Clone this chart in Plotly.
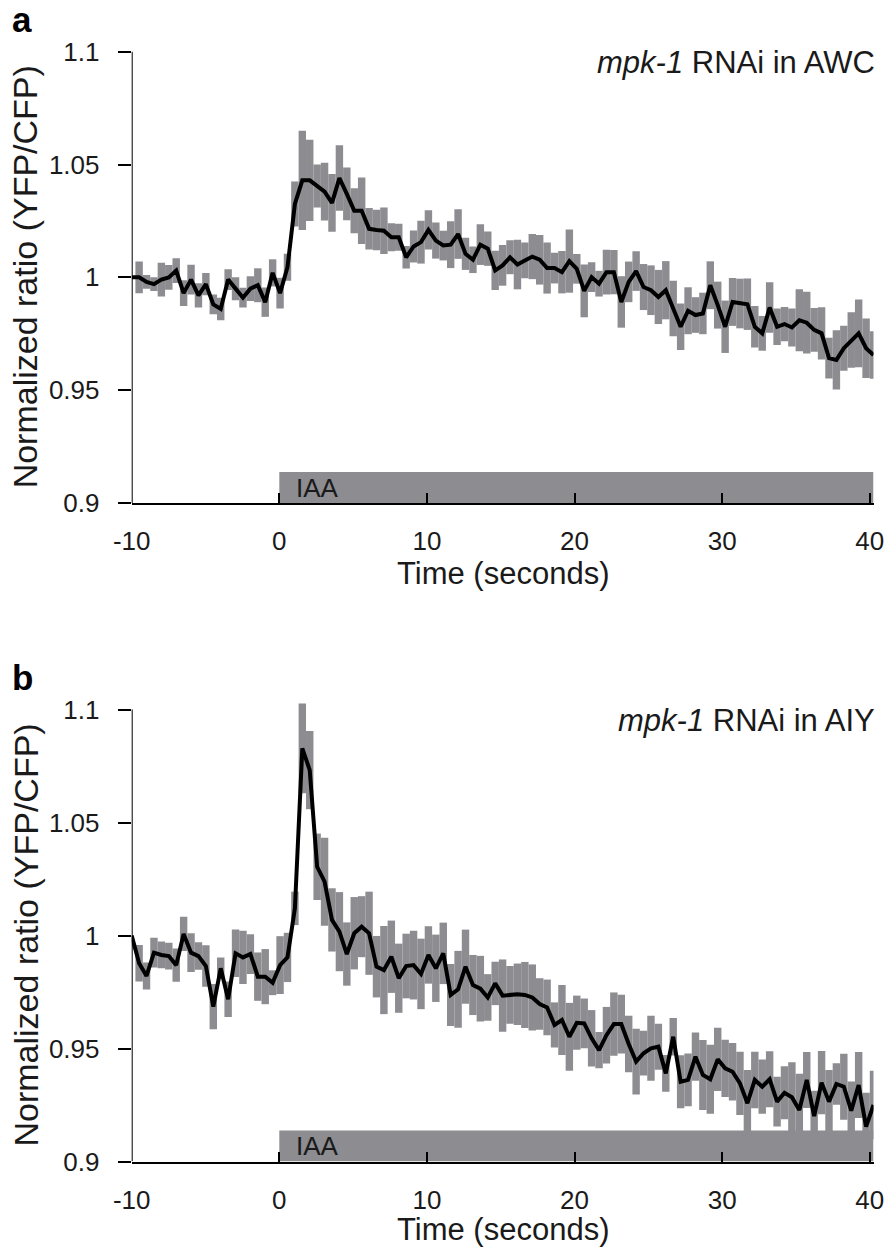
import plotly.graph_objects as go

# ---------------- data ----------------
frame_interval = 0.5025  # seconds between frames
n_frames = 101
time_s = [-10 + frame_interval * i for i in range(n_frames)]

awc_mean = [
    1.000, 1.000, 0.998, 0.997, 0.999, 1.000, 1.003, 0.993, 0.999, 0.992,
    0.997, 0.988, 0.986, 0.999, 0.995, 0.991, 0.995, 0.9965, 0.989, 1.002,
    0.993, 1.0045, 1.0325, 1.043, 1.043, 1.0405, 1.038, 1.033, 1.044, 1.037,
    1.0295, 1.0295, 1.0215, 1.021, 1.0207, 1.0178, 1.0178, 1.0089, 1.0137, 1.0156,
    1.021, 1.0163, 1.0141, 1.0145, 1.0192, 1.0104, 1.0078, 1.0145, 1.0127, 1.0031,
    1.0053, 1.0089, 1.0057, 1.0075, 1.0092, 1.0078, 1.0041, 1.0041, 1.0023, 1.0072,
    1.0038, 0.994, 1.0001, 0.9972, 1.0023, 1.0023, 0.9891, 0.998, 1.0028, 0.9957,
    0.9943, 0.9913, 0.9943, 0.9862, 0.9781, 0.9852, 0.9833, 0.984, 0.9965, 0.9877,
    0.9781, 0.9891, 0.9884, 0.9881, 0.9781, 0.9752, 0.9866, 0.9781, 0.9793, 0.9778,
    0.981, 0.9799, 0.9767, 0.9752, 0.9642, 0.9634, 0.9686, 0.9722, 0.9752, 0.9686,
    0.9656,
]
awc_sem = [
    0.0, 0.007, 0.003, 0.003, 0.0075, 0.0055, 0.0055, 0.0057, 0.0066, 0.0054,
    0.0049, 0.0044, 0.005, 0.0046, 0.0051, 0.0044, 0.0055, 0.0075, 0.0065, 0.006,
    0.0068, 0.006, 0.010, 0.022, 0.018, 0.0095, 0.0128, 0.0128, 0.0145, 0.0117,
    0.010, 0.0147, 0.0092, 0.009, 0.0103, 0.0062, 0.006, 0.005, 0.0071, 0.0095,
    0.0087, 0.008, 0.0066, 0.0104, 0.011, 0.0071, 0.0059, 0.009, 0.0076, 0.0087,
    0.009, 0.0075, 0.011, 0.0079, 0.010, 0.011, 0.0113, 0.0068, 0.0094, 0.014,
    0.0066, 0.0117, 0.0066, 0.0057, 0.0099, 0.0098, 0.0114, 0.009, 0.0088, 0.0102,
    0.011, 0.012, 0.0129, 0.0123, 0.0103, 0.0104, 0.0079, 0.0092, 0.0106, 0.0104,
    0.0116, 0.0106, 0.011, 0.0114, 0.0092, 0.0077, 0.0112, 0.0081, 0.0076, 0.0084,
    0.0137, 0.0137, 0.0097, 0.0116, 0.009, 0.0131, 0.010, 0.0123, 0.015, 0.0132,
    0.0105,
]

aiy_mean = [
    1.000, 0.9877, 0.9821, 0.9924, 0.9914, 0.9909, 0.9869, 1.0007, 0.9924, 0.9909,
    0.9865, 0.9685, 0.9855, 0.9718, 0.9921, 0.9903, 0.9918, 0.9818, 0.9818, 0.9791,
    0.9869, 0.9903, 1.012, 1.0828, 1.0732, 1.0304, 1.0238, 1.0069, 1.0017, 0.9918,
    1.001, 1.0039, 1.001, 0.9862, 0.9847, 0.9906, 0.9811, 0.9865, 0.9869, 0.983,
    0.9914, 0.9855, 0.9921, 0.9737, 0.9762, 0.9862, 0.9781, 0.9765, 0.9726, 0.9788,
    0.9734, 0.9737, 0.974, 0.9737, 0.9726, 0.9697, 0.9682, 0.9604, 0.9626, 0.9552,
    0.9614, 0.9611, 0.9545, 0.9493, 0.9559, 0.9608, 0.9608, 0.952, 0.9442, 0.9479,
    0.9501, 0.9508, 0.939, 0.9552, 0.9353, 0.9361, 0.9464, 0.9383, 0.9364, 0.9452,
    0.9412, 0.9397, 0.9346, 0.9258, 0.9361, 0.9331, 0.9364, 0.9265, 0.9304, 0.9284,
    0.9228, 0.9361, 0.9201, 0.9349, 0.9265, 0.9343, 0.9331, 0.9225, 0.9338, 0.9154,
    0.925,
]
aiy_sem = [
    0.0, 0.0081, 0.006, 0.0066, 0.0059, 0.0059, 0.0074, 0.0076, 0.0086, 0.0061,
    0.0092, 0.010, 0.0048, 0.0079, 0.0105, 0.0118, 0.0088, 0.0107, 0.0122, 0.0055,
    0.0128, 0.0109, 0.0074, 0.0199, 0.0173, 0.0147, 0.0195, 0.014, 0.0175, 0.014,
    0.016, 0.0135, 0.0184, 0.0136, 0.0195, 0.016, 0.0153, 0.0143, 0.0152, 0.0156,
    0.0127, 0.0149, 0.0136, 0.0137, 0.017, 0.0164, 0.0133, 0.0145, 0.0103, 0.0096,
    0.016, 0.0128, 0.0136, 0.0146, 0.0146, 0.0114, 0.0123, 0.010, 0.0155, 0.015,
    0.012, 0.011, 0.0125, 0.008, 0.0125, 0.014, 0.013, 0.0125, 0.0145, 0.0099,
    0.0144, 0.0102, 0.0081, 0.0083, 0.0117, 0.0117, 0.0107, 0.0155, 0.0153, 0.014,
    0.0127, 0.0127, 0.014, 0.0147, 0.0125, 0.012, 0.0124, 0.011, 0.0117, 0.0155,
    0.016, 0.0124, 0.0112, 0.014, 0.014, 0.0092, 0.0146, 0.0129, 0.0146, 0.015,
    0.0152,
]

x_ticks = [-10, 0, 10, 20, 30, 40]
x_tick_text = ["-10", "0", "10", "20", "30", "40"]
y_ticks = [0.9, 0.95, 1.0, 1.05, 1.1]
y_tick_text = ["0.9", "0.95", "1", "1.05", "1.1"]
panel_letters = ["a", "b"]
panel_titles = ["<i>mpk-1</i> RNAi in AWC", "<i>mpk-1</i> RNAi in AIY"]
stimulus_label = "IAA"
stimulus_start = 0.0
x_title = "Time (seconds)"
y_title = "Normalized ratio (YFP/CFP)"

# ---------------- style ----------------
W, H = 885, 1249
FONT = "Liberation Sans, Arial, Helvetica, sans-serif"
GRAY = "#8c8c91"
TXT = "#1a1a1a"
X_RANGE = [-10, 40.25]
Y_RANGE = [0.9, 1.11]
stim_top = 0.9137

# pixel layout of each panel: (y pixel of 0.9, y pixel of 1.1)
panels_px = [(503.0, 51.7), (1161.5, 709.5)]
x_left_px, x_right_px = 131.7, 873.5
x_title_offset = [70, 68]


def fy(px):
    return 1 - px / H


def fx(px):
    return px / W


fig = go.Figure()
datasets = [(awc_mean, awc_sem), (aiy_mean, aiy_sem)]

layout_axes = {}
shapes = []
annotations = []
for k, ((mean, sem), (p09, p11)) in enumerate(zip(datasets, panels_px)):
    sfx = "" if k == 0 else str(k + 1)
    xa, ya = "x" + sfx, "y" + sfx
    fig.add_trace(go.Bar(
        x=time_s, y=[2 * s for s in sem], base=[m - s for m, s in zip(mean, sem)],
        width=frame_interval, marker=dict(color=GRAY, line=dict(width=0)),
        xaxis=xa, yaxis=ya, showlegend=False, hoverinfo="skip"))
    fig.add_trace(go.Scatter(
        x=time_s, y=mean, mode="lines", line=dict(color="black", width=4),
        xaxis=xa, yaxis=ya, showlegend=False))

    ppu = (p09 - p11) / 0.2
    top_px = p09 - (Y_RANGE[1] - 0.9) * ppu
    layout_axes["xaxis" + sfx] = dict(
        domain=[fx(x_left_px), fx(x_right_px)], range=X_RANGE, anchor=ya,
        tickvals=x_ticks, ticktext=x_tick_text, ticks="inside", ticklen=10,
        tickwidth=2, tickcolor="black", automargin=False,
        showline=True, linewidth=2, linecolor="black", showgrid=False, zeroline=False,
        tickfont=dict(family=FONT, size=26, color=TXT), ticklabelstandoff=14)
    layout_axes["yaxis" + sfx] = dict(
        domain=[fy(p09), fy(top_px)], range=Y_RANGE, anchor=xa,
        tickvals=y_ticks, ticktext=y_tick_text, ticks="outside", ticklen=13,
        tickwidth=2, tickcolor="black", showline=False, showgrid=False, zeroline=False,
        automargin=False,
        tickfont=dict(family=FONT, size=26, color=TXT), ticklabelstandoff=13)

    # y axis line from 0.9 to 1.1
    shapes.append(dict(type="line", xref=xa, yref=ya, x0=X_RANGE[0], x1=X_RANGE[0],
                       y0=0.9, y1=1.1, line=dict(color="black", width=2), layer="above"))
    # stimulus bar
    shapes.append(dict(type="rect", xref=xa, yref=ya, x0=stimulus_start, x1=X_RANGE[1],
                       y0=0.9, y1=stim_top, fillcolor=GRAY, line=dict(width=0), layer="below"))
    annotations.append(dict(xref=xa, yref=ya, x=1.0, y=0.9068, text=stimulus_label,
                            showarrow=False, xanchor="left", yanchor="middle",
                            font=dict(family=FONT, size=26, color=TXT)))
    # panel letter
    annotations.append(dict(xref="paper", yref="paper", x=fx(10), y=fy(p11 - 32),
                            text="<b>%s</b>" % panel_letters[k], showarrow=False,
                            xanchor="left", yanchor="middle",
                            font=dict(family=FONT, size=35, color="black")))
    # panel title
    annotations.append(dict(xref="paper", yref="paper", x=fx(877), y=fy(p11 + 11),
                            text=panel_titles[k], showarrow=False,
                            xanchor="right", yanchor="middle",
                            font=dict(family=FONT, size=31, color=TXT)))
    # x title
    annotations.append(dict(xref="paper", yref="paper", x=fx((x_left_px + x_right_px) / 2),
                            y=fy(p09 + x_title_offset[k]), text=x_title, showarrow=False,
                            xanchor="center", yanchor="middle",
                            font=dict(family=FONT, size=31, color=TXT)))
    # y title
    annotations.append(dict(xref="paper", yref="paper", x=fx(25), y=fy((p09 + p11) / 2),
                            text=y_title, showarrow=False, textangle=-90,
                            xanchor="center", yanchor="middle",
                            font=dict(family=FONT, size=34, color=TXT)))

fig.update_layout(
    width=W, height=H, autosize=False,
    margin=dict(l=0, r=0, t=0, b=0, autoexpand=False),
    paper_bgcolor="white", plot_bgcolor="white",
    barmode="overlay", showlegend=False,
    shapes=shapes, annotations=annotations,
    **layout_axes,
)

fig.write_html("out.html",
               config={"displayModeBar": False, "staticPlot": True},
               post_script="document.body.style.margin='0';document.body.style.padding='0';")
